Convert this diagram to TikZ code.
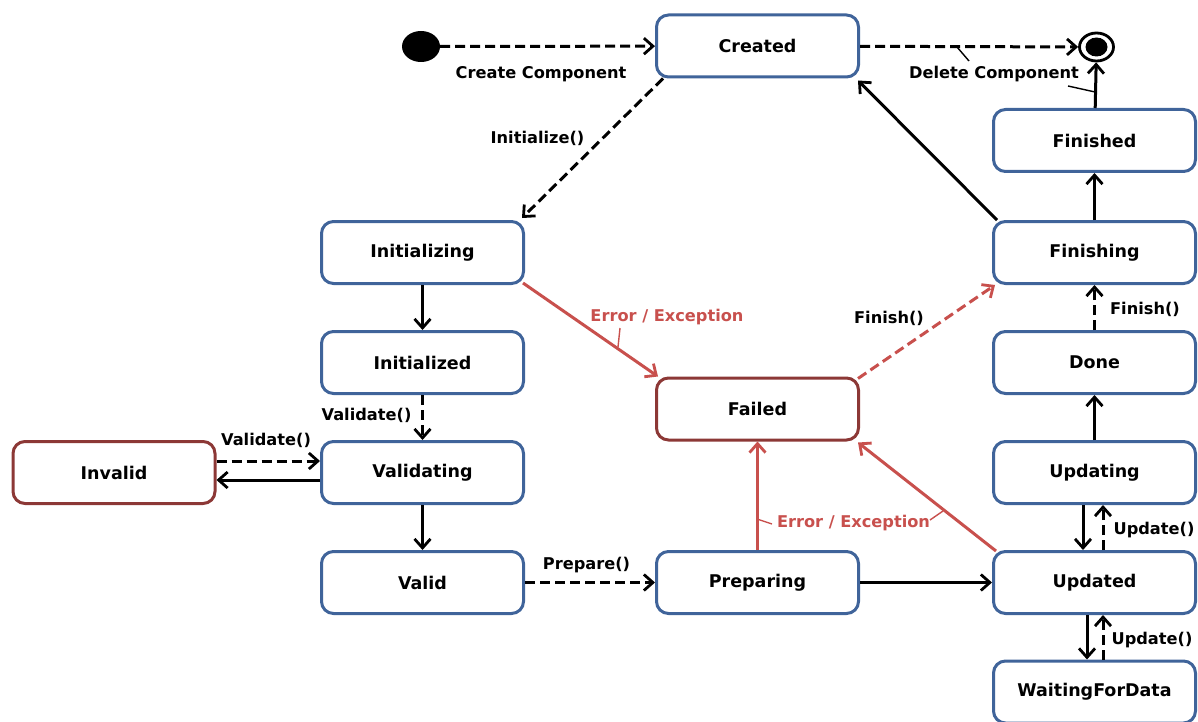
\documentclass[tikz,border=0pt]{standalone}
\usepackage{fontspec}
\setmainfont{DejaVu Sans}
\usetikzlibrary{arrows.meta,shapes.geometric,calc}
\definecolor{stateblue}{RGB}{64,100,154}
\definecolor{statered}{RGB}{140,56,54}
\definecolor{errred}{RGB}{200,80,77}
\begin{document}
\begin{tikzpicture}[x=1pt,y=-1pt,
  state/.style={draw=stateblue, line width=3pt, rounded corners=12pt, fill=white,
    minimum width=202pt, minimum height=62pt, inner sep=0pt,
    font=\fontsize{17.5}{20}\selectfont\bfseries},
  badstate/.style={state, draw=statered},
  tr/.style={line width=3pt, -{Straight Barb[length=9pt,width=16pt,line width=2.8pt]}},
  trig/.style={tr, dash pattern=on 10pt off 5pt},
  err/.style={tr, draw=errred},
  errtrig/.style={trig, draw=errred},
  lbl/.style={font=\fontsize{16.2}{18}\selectfont\bfseries, inner sep=0pt},
  errlbl/.style={lbl, text=errred},
  leader/.style={line width=1.4pt}
]
\clip (0,0) rectangle (1198,722);
\useasboundingbox (0,0) rectangle (1198,722);

% pseudo states
\node[ellipse, fill=black, minimum width=38pt, minimum height=31pt, inner sep=0pt] (init) at (421,46.5) {};
\node[ellipse, draw, line width=2.8pt, minimum width=34pt, minimum height=28pt, inner sep=0pt] (final) at (1096.5,47) {};
\fill (final.center) ellipse [x radius=11pt, y radius=9.5pt];

% states
\node[state] (Created)        at (757.5,46)   {Created};
\node[state] (Initializing)   at (422.5,252.5) {Initializing};
\node[state] (Initialized)    at (422.5,362.5) {Initialized};
\node[state] (Validating)     at (422.5,472.5) {Validating};
\node[state] (Valid)          at (422.5,582.5) {Valid};
\node[badstate] (Invalid)     at (114,472.5)   {Invalid};
\node[badstate] (Failed)      at (757.5,409)   {Failed};
\node[state] (Preparing)      at (757.5,582.5) {Preparing};
\node[state] (Finished)       at (1094.5,140.5) {Finished};
\node[state] (Finishing)      at (1094.5,252.5) {Finishing};
\node[state] (Done)           at (1094.5,362.5) {Done};
\node[state] (Updating)       at (1094.5,472.5) {Updating};
\node[state] (Updated)        at (1094.5,582.5) {Updated};
\node[state] (WaitingForData) at (1094.5,692)   {WaitingForData};

% transitions
\draw[trig] (init) -- (Created);
\draw[trig] (Created) -- (final);
\draw[tr] (Finished) -- (final);
\draw[trig] ($(Created.south west)+(8,0)$) -- ($(Initializing.north east)+(-3,-2)$);
\draw[tr] ($(Finishing.north west)+(5,0)$) -- ($(Created.south east)+(-2,2)$);
\draw[tr] (Initializing) -- (Initialized);
\draw[trig] (Initialized) -- (Validating);
\draw[trig] ([yshift=11.5pt]Invalid.east) -- ([yshift=11.5pt]Validating.west);
\draw[tr] ([yshift=-7.5pt]Validating.west) -- ([yshift=-7.5pt]Invalid.east);
\draw[tr] (Validating) -- (Valid);
\draw[trig] (Valid) -- (Preparing);
\draw[tr] (Preparing) -- (Updated);
\draw[err] (Preparing) -- (Failed);
\draw[err] ($(Updated.north west)+(4,1)$) -- ($(Failed.south east)+(-2,1)$);
\draw[err] ($(Initializing.south east)+(-2,-2)$) -- ($(Failed.north west)+(3,0)$);
\draw[errtrig] ($(Failed.north east)+(-2,2)$) -- ($(Finishing.south west)+(3,0)$);
\draw[tr] (Updating) -- (Done);
\draw[trig] (Done) -- (Finishing);
\draw[tr] (Finishing) -- (Finished);
\draw[tr] ([xshift=-11.5pt]Updating.south) -- ([xshift=-11.5pt]Updated.north);
\draw[trig] ([xshift=8.5pt]Updated.north) -- ([xshift=8.5pt]Updating.south);
\draw[tr] ([xshift=-7.5pt]Updated.south) -- ([xshift=-7.5pt]WaitingForData.north);
\draw[trig] ([xshift=8.5pt]WaitingForData.north) -- ([xshift=8.5pt]Updated.south);

% transition labels
\node[lbl] (lcreate)  at (541,74)    {Create Component};
\node[lbl] (ldelete)  at (994,74)    {Delete Component};
\node[lbl] (linit)    at (537.5,138) {Initialize()};
\node[errlbl] (lerr1) at (667,317.5) {Error / Exception};
\node[lbl] (lfin1)    at (889,318)   {Finish()};
\node[lbl] (lfin2)    at (1145,309)  {Finish()};
\node[lbl] (lval1)    at (366.5,415) {Validate()};
\node[lbl] (lval2)    at (266,440)   {Validate()};
\node[lbl] (lprep)    at (586.5,565) {Prepare()};
\node[errlbl] (lerr2) at (853.5,523.5) {Error / Exception};
\node[lbl] (lupd1)    at (1154,530)  {Update()};
\node[lbl] (lupd2)    at (1152,640)  {Update()};

% label leaders
\coordinate (d1) at (957,47);   \coordinate (d2) at (969,61);
\coordinate (f1) at (1068,86);  \coordinate (f2) at (1095,92);
\coordinate (e1) at (620,328);  \coordinate (e2) at (618,347);
\coordinate (e3) at (772,524);  \coordinate (e4) at (757,519);
\coordinate (e5) at (930,520);  \coordinate (e6) at (943,511);
\draw[leader] (d1) -- (d2);
\draw[leader] (f1) -- (f2);
\draw[leader, errred] (e1) -- (e2);
\draw[leader, errred] (e3) -- (e4);
\draw[leader, errred] (e5) -- (e6);
\end{tikzpicture}
\end{document}
